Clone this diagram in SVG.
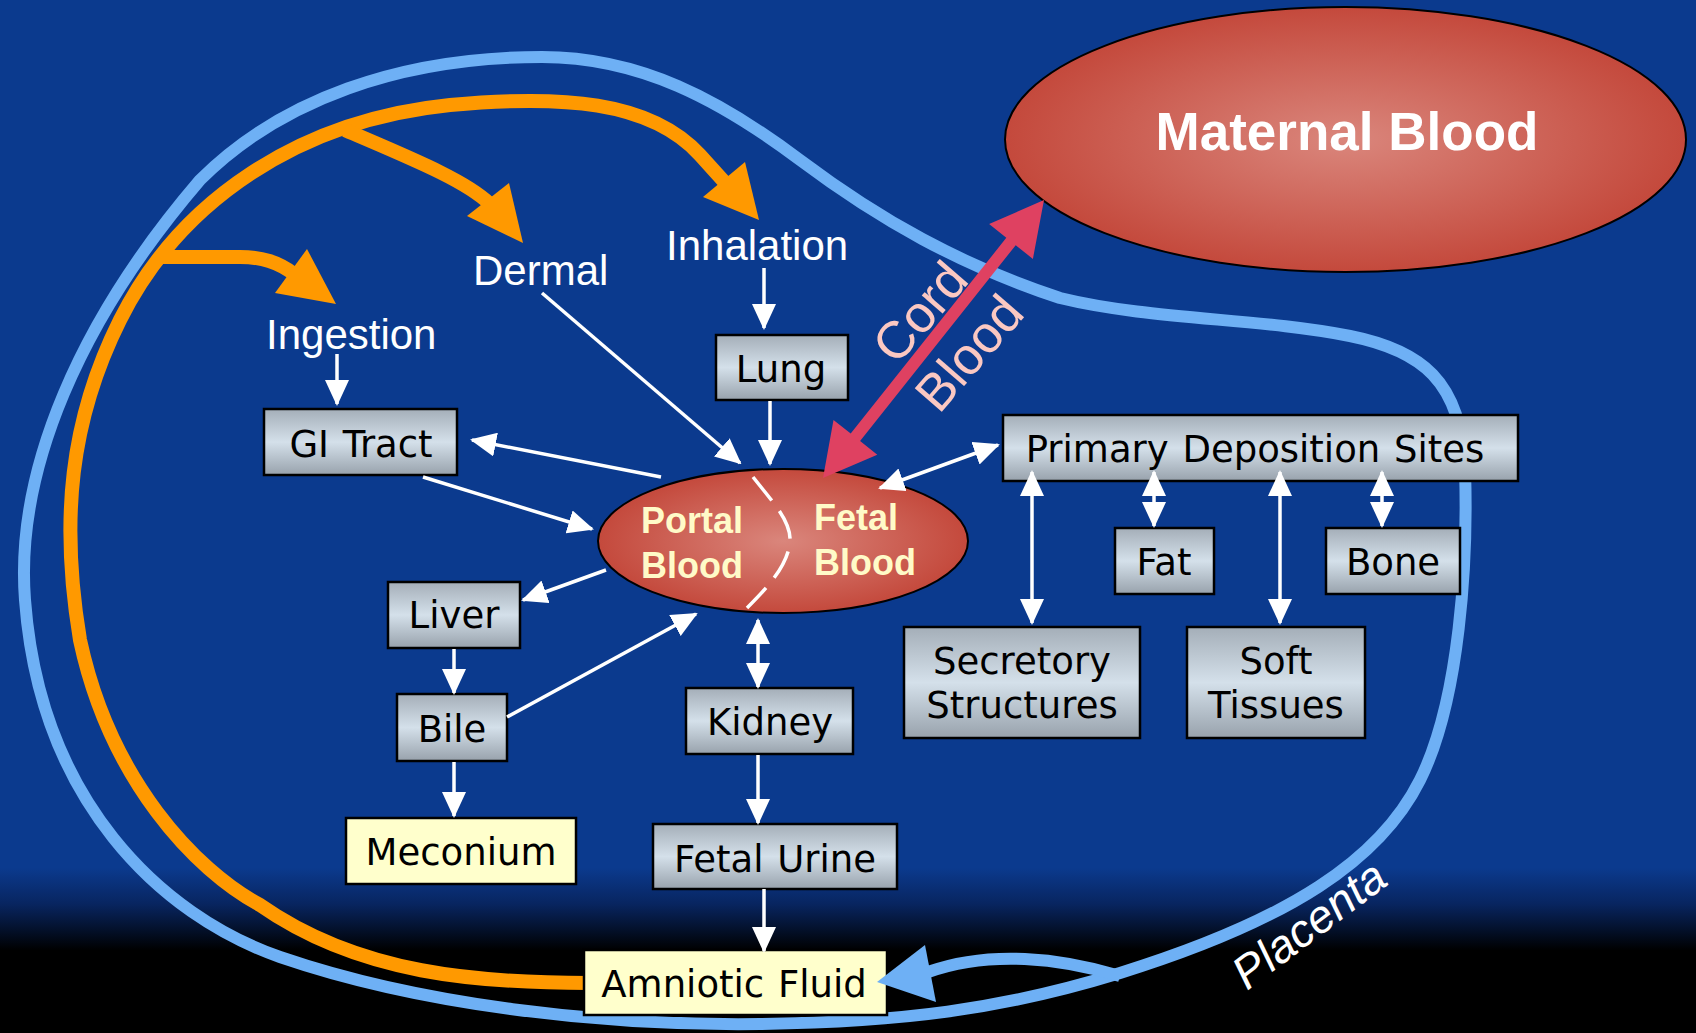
<svg xmlns="http://www.w3.org/2000/svg" width="1696" height="1033" viewBox="0 0 1696 1033">
<defs>
  <linearGradient id="bg" x1="0" y1="0" x2="0" y2="1">
    <stop offset="0" stop-color="#0B3A8E"/>
    <stop offset="0.84" stop-color="#0B3A8E"/>
    <stop offset="0.875" stop-color="#082560"/>
    <stop offset="0.92" stop-color="#000000"/>
    <stop offset="1" stop-color="#000000"/>
  </linearGradient>
  <linearGradient id="boxg" x1="0" y1="0" x2="0" y2="1">
    <stop offset="0" stop-color="#A4AEB8"/>
    <stop offset="0.5" stop-color="#D4E0EA"/>
    <stop offset="1" stop-color="#98A2AC"/>
  </linearGradient>
  <radialGradient id="redg" cx="0.5" cy="0.5" r="0.5">
    <stop offset="0" stop-color="#DA867C"/>
    <stop offset="1" stop-color="#C4493C"/>
  </radialGradient>
  <marker id="ah" viewBox="0 0 26 24" refX="24" refY="12" markerWidth="26" markerHeight="24" markerUnits="userSpaceOnUse" orient="auto-start-reverse">
    <path d="M0,0 L26,12 L0,24 z" fill="#FFFFFF"/>
  </marker>
  <style>
    .box{fill:url(#boxg);stroke:#000;stroke-width:2.5}
    .ybox{fill:#FFFFCC;stroke:#000;stroke-width:2.5}
    .bt{font-family:"DejaVu Sans",Verdana,sans-serif;font-size:37px;fill:#000;text-anchor:middle;word-spacing:2px}
    .lbl{font-family:"Liberation Sans",Arial,sans-serif;font-size:42px;fill:#FFFFFF}
    .pf{font-family:"Liberation Sans",Arial,sans-serif;font-size:36px;font-weight:bold;fill:#FFFAC8}
    .wl{stroke:#FFFFFF;stroke-width:3.5;fill:none;marker-end:url(#ah)}
    .wd{stroke:#FFFFFF;stroke-width:3.5;fill:none;marker-end:url(#ah);marker-start:url(#ah)}
    .or{stroke:#FF9900;stroke-width:14;fill:none}
    .bl{stroke:#6EB0F5;stroke-width:12;fill:none}
  </style>
</defs>
<rect x="0" y="0" width="1696" height="1033" fill="url(#bg)"/>

<g id="loops">
  <path class="bl" d="M542,57 C640,57 720,100 800,160 C880,220 960,265 1060,298 C1150,320 1260,318 1350,336 C1420,350 1462,380 1465,470 C1468,560 1460,700 1420,780 C1380,860 1290,920 1120,973 C1000,1010 900,1022 760,1024 C600,1026 420,1005 280,957 C160,915 40,800 25,600 C15,470 80,320 200,180 C280,100 400,57 542,57 Z"/>
  <path class="or" d="M590,983 C480,983 360,975 260,905 C195,870 110,780 80,640 C60,520 70,420 120,320 C180,200 300,120 450,105 C560,95 650,100 700,155 L728,186"/>
  <polygon fill="#FF9900" points="759,220 703,197 745,162"/>
  <path class="or" d="M345,130 C410,158 465,180 490,204"/>
  <polygon fill="#FF9900" points="523,243 467,216 509,183"/>
  <path class="or" d="M160,257 L240,257 C262,257 278,262 294,274"/>
  <polygon fill="#FF9900" points="336,304 275,293 307,249"/>
</g>

<g id="maternal-blood">
  <ellipse cx="1345.5" cy="139.5" rx="340.5" ry="132.5" fill="url(#redg)" stroke="#000" stroke-width="2"/>
  <text x="1347" y="150" text-anchor="middle" font-family="Liberation Sans, Arial, sans-serif" font-size="53" font-weight="bold" fill="#FFFFFF">Maternal Blood</text>
</g>

<g id="portal-fetal-blood">
  <ellipse cx="783" cy="541" rx="185" ry="72" fill="url(#redg)" stroke="#000" stroke-width="2"/>
  <path d="M753,477 C775,505 795,525 789,548 C784,570 765,590 747,608" fill="none" stroke="#FFFFFF" stroke-width="3.5" stroke-dasharray="30 13"/>
  <text class="pf" x="641" y="533">Portal</text>
  <text class="pf" x="641" y="578">Blood</text>
  <text class="pf" x="814" y="530">Fetal</text>
  <text class="pf" x="814" y="575">Blood</text>
</g>

<g id="ingestion"><text class="lbl" x="266" y="349">Ingestion</text></g>
<g id="dermal"><text class="lbl" x="473" y="285">Dermal</text></g>
<g id="inhalation"><text class="lbl" x="666" y="260">Inhalation</text></g>

<g id="lung"><rect class="box" x="716" y="335" width="132" height="65"/><text class="bt" x="781" y="382">Lung</text></g>
<g id="gi-tract"><rect class="box" x="264" y="409" width="193" height="66"/><text class="bt" x="361" y="457">GI Tract</text></g>
<g id="primary-deposition-sites"><rect class="box" x="1003" y="415" width="515" height="66"/><text class="bt" x="1255" y="462">Primary Deposition Sites</text></g>
<g id="fat"><rect class="box" x="1115" y="528" width="99" height="66"/><text class="bt" x="1164" y="575">Fat</text></g>
<g id="bone"><rect class="box" x="1326" y="528" width="134" height="66"/><text class="bt" x="1393" y="575">Bone</text></g>
<g id="secretory-structures"><rect class="box" x="904" y="627" width="236" height="111"/><text class="bt" x="1022" y="674">Secretory</text><text class="bt" x="1022" y="718">Structures</text></g>
<g id="soft-tissues"><rect class="box" x="1187" y="627" width="178" height="111"/><text class="bt" x="1276" y="674">Soft</text><text class="bt" x="1276" y="718">Tissues</text></g>
<g id="liver"><rect class="box" x="388" y="582" width="132" height="66"/><text class="bt" x="454" y="628">Liver</text></g>
<g id="bile"><rect class="box" x="397" y="694" width="110" height="67"/><text class="bt" x="452" y="742">Bile</text></g>
<g id="meconium"><rect class="ybox" x="346" y="818" width="230" height="66"/><text class="bt" x="461" y="865">Meconium</text></g>
<g id="kidney"><rect class="box" x="686" y="688" width="167" height="66"/><text class="bt" x="770" y="735">Kidney</text></g>
<g id="fetal-urine"><rect class="box" x="653" y="824" width="244" height="65"/><text class="bt" x="775" y="872">Fetal Urine</text></g>
<g id="amniotic-fluid"><rect class="ybox" x="584" y="950" width="303" height="65"/><text class="bt" x="734" y="997">Amniotic Fluid</text></g>

<g id="connectors">
  <line class="wl" x1="764" y1="268" x2="764" y2="328"/>
  <line class="wl" x1="770" y1="401" x2="770" y2="464"/>
  <line class="wl" x1="542" y1="293" x2="740" y2="463"/>
  <line class="wl" x1="337" y1="354" x2="337" y2="404"/>
  <line class="wl" x1="661" y1="477" x2="472" y2="440"/>
  <line class="wl" x1="423" y1="477" x2="592" y2="529"/>
  <line class="wl" x1="606" y1="570" x2="523" y2="600"/>
  <line class="wl" x1="507" y1="717" x2="696" y2="614"/>
  <line class="wl" x1="454" y1="649" x2="454" y2="693"/>
  <line class="wl" x1="454" y1="762" x2="454" y2="816"/>
  <line class="wd" x1="758" y1="620" x2="758" y2="687"/>
  <line class="wl" x1="758" y1="755" x2="758" y2="823"/>
  <line class="wl" x1="764" y1="889" x2="764" y2="951"/>
  <line class="wd" x1="880" y1="488" x2="998" y2="445"/>
  <line class="wd" x1="1032" y1="472" x2="1032" y2="623"/>
  <line class="wd" x1="1154" y1="472" x2="1154" y2="526"/>
  <line class="wd" x1="1280" y1="472" x2="1280" y2="623"/>
  <line class="wd" x1="1382" y1="472" x2="1382" y2="526"/>
  <path d="M1120,976 C1060,958 990,950 928,972" fill="none" stroke="#6EB0F5" stroke-width="12"/>
  <polygon fill="#6EB0F5" points="877,982 925,945 936,1002"/>
  <polygon fill="#DF4161" points="823,478 877.3,454.7 860.1,441 1015.7,245.2 1032.9,258.9 1044,200 989.1,224.1 1006.3,237.8 850.7,433.6 833.5,419.9"/>
</g>

<g id="labels">
  <text transform="translate(920,312) rotate(-49)" y="18" text-anchor="middle" font-family="Liberation Sans, Arial, sans-serif" font-size="52" fill="#FBC8C2">Cord</text>
  <text transform="translate(969,353) rotate(-49)" y="18" text-anchor="middle" font-family="Liberation Sans, Arial, sans-serif" font-size="52" fill="#FBC8C2">Blood</text>
  <text transform="translate(1247,991) rotate(-37)" font-family="Liberation Sans, Arial, sans-serif" font-style="italic" font-size="46" fill="#FFFFFF">Placenta</text>
</g>
</svg>
